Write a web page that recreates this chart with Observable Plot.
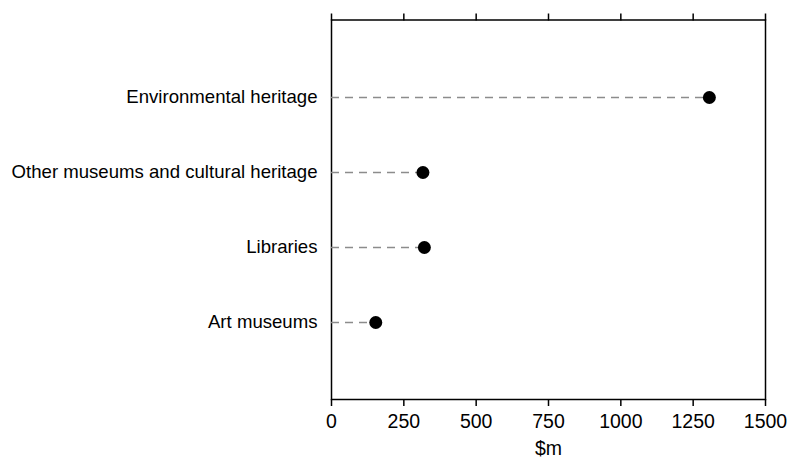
<!DOCTYPE html>
<html>
<head>
<meta charset="utf-8">
<script src="https://cdn.jsdelivr.net/npm/d3@7"></script>
<script src="https://cdn.jsdelivr.net/npm/@observablehq/plot@0.6"></script>
<style>
  html, body { margin: 0; padding: 0; background: #fff; }
  #chart svg { display: block; }
</style>
</head>
<body>
<div id="chart"></div>
<script>
const categories = ["Environmental heritage", "Other museums and cultural heritage", "Libraries", "Art museums"];
const values = [1306, 316, 321, 153];
const xTicks = [0, 250, 500, 750, 1000, 1250, 1500];
const xLabel = "$m";

const data = categories.map((name, i) => ({name, value: values[i]}));

const chart = Plot.plot({
  width: 790,
  height: 458,
  marginLeft: 331,
  marginRight: 25,
  marginTop: 19.5,
  marginBottom: 59,
  style: {fontFamily: "'Liberation Sans', Arial, sans-serif", fontSize: "19px", color: "#000", background: "#fff"},
  x: {domain: [0, 1500]},
  y: {domain: categories, padding: 1},
  marks: [
    Plot.frame({stroke: "#000", strokeWidth: 1.5}),
    Plot.axisX({anchor: "top", ticks: xTicks, tickSize: 7, tickFormat: () => "", label: null, strokeWidth: 1.5}),
    Plot.axisX({anchor: "bottom", ticks: xTicks, tickSize: 7, tickPadding: 8, tickFormat: d => String(d), label: xLabel, labelAnchor: "center", labelArrow: "none", labelOffset: 55, strokeWidth: 1.5, fontSize: 19.5}),
    Plot.axisY({anchor: "left", tickSize: 0, tickPadding: 14, label: null, fontSize: 18.6}),
    Plot.ruleY(data, {y: "name", x1: 0, x2: "value", stroke: "#8c8c8c", strokeWidth: 1.5, strokeDasharray: "8,6"}),
    Plot.dot(data, {x: "value", y: "name", r: 6.5, fill: "#000", stroke: "none"})
  ]
});
document.getElementById("chart").appendChild(chart);
</script>
</body>
</html>
